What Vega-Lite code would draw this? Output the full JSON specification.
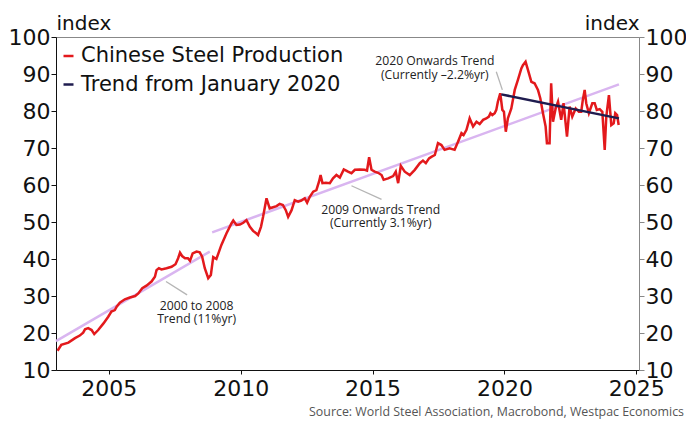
{
  "$schema": "https://vega.github.io/schema/vega-lite/v6.json",
  "autosize": {"type": "none"},
  "width": 583,
  "height": 333,
  "padding": {"left": 56, "top": 37, "right": 47, "bottom": 51},
  "background": "white",
  "config": {
    "font": "DejaVu Sans",
    "view": {"stroke": "#888888", "strokeWidth": 1},
    "axis": {"grid": false, "labelFont": "DejaVu Sans", "labelColor": "#111111", "labelFontSize": 21, "titleFont": "DejaVu Sans", "titleFontWeight": "normal", "titleFontSize": 20, "titleColor": "#111111"}
  },
  "title": {"text": "Source: World Steel Association, Macrobond, Westpac Economics", "orient": "bottom", "anchor": "end", "frame": "group", "dx": 45, "offset": 7, "fontSize": 12.4, "fontWeight": "normal", "color": "#555555", "font": "Open Sans"},
  "datasets": {
    "steel": [
      {"t": 2003.06, "v": 15.2}, {"t": 2003.2, "v": 16.8}, {"t": 2003.47, "v": 17.4}, {"t": 2003.72, "v": 18.6}, {"t": 2003.9, "v": 19.3},
      {"t": 2004.03, "v": 20.1}, {"t": 2004.1, "v": 21.0}, {"t": 2004.22, "v": 21.3}, {"t": 2004.35, "v": 20.8}, {"t": 2004.45, "v": 19.7},
      {"t": 2004.6, "v": 20.8}, {"t": 2004.8, "v": 22.6}, {"t": 2004.98, "v": 24.4}, {"t": 2005.1, "v": 25.8}, {"t": 2005.23, "v": 26.2},
      {"t": 2005.3, "v": 27.1}, {"t": 2005.42, "v": 28.2}, {"t": 2005.61, "v": 29.1}, {"t": 2005.8, "v": 29.6}, {"t": 2006.0, "v": 30.0},
      {"t": 2006.12, "v": 30.7}, {"t": 2006.27, "v": 32.1}, {"t": 2006.43, "v": 32.8}, {"t": 2006.62, "v": 33.9}, {"t": 2006.75, "v": 35.2},
      {"t": 2006.81, "v": 37.0}, {"t": 2006.9, "v": 37.5}, {"t": 2007.0, "v": 37.2}, {"t": 2007.19, "v": 37.5}, {"t": 2007.38, "v": 37.9},
      {"t": 2007.53, "v": 38.6}, {"t": 2007.63, "v": 40.2}, {"t": 2007.7, "v": 41.7}, {"t": 2007.78, "v": 40.8}, {"t": 2007.89, "v": 40.2},
      {"t": 2008.0, "v": 40.2}, {"t": 2008.08, "v": 39.5}, {"t": 2008.18, "v": 41.5}, {"t": 2008.33, "v": 42.0}, {"t": 2008.45, "v": 41.8},
      {"t": 2008.54, "v": 40.6}, {"t": 2008.64, "v": 37.5}, {"t": 2008.77, "v": 34.8}, {"t": 2008.87, "v": 35.7}, {"t": 2008.96, "v": 40.5},
      {"t": 2009.08, "v": 40.0}, {"t": 2009.27, "v": 43.8}, {"t": 2009.46, "v": 46.9}, {"t": 2009.65, "v": 49.6}, {"t": 2009.72, "v": 50.4},
      {"t": 2009.84, "v": 49.2}, {"t": 2009.97, "v": 49.3}, {"t": 2010.1, "v": 49.8}, {"t": 2010.22, "v": 50.5}, {"t": 2010.35, "v": 48.7},
      {"t": 2010.47, "v": 47.6}, {"t": 2010.6, "v": 46.9}, {"t": 2010.66, "v": 46.5}, {"t": 2010.77, "v": 48.7}, {"t": 2010.85, "v": 51.4},
      {"t": 2010.98, "v": 56.4}, {"t": 2011.1, "v": 53.7}, {"t": 2011.23, "v": 54.0}, {"t": 2011.36, "v": 54.3}, {"t": 2011.48, "v": 54.9},
      {"t": 2011.6, "v": 54.6}, {"t": 2011.71, "v": 53.2}, {"t": 2011.8, "v": 51.4}, {"t": 2011.93, "v": 53.2}, {"t": 2012.05, "v": 55.9},
      {"t": 2012.18, "v": 55.5}, {"t": 2012.3, "v": 55.8}, {"t": 2012.43, "v": 56.4}, {"t": 2012.52, "v": 55.2}, {"t": 2012.62, "v": 56.8},
      {"t": 2012.75, "v": 58.2}, {"t": 2012.87, "v": 58.6}, {"t": 2012.97, "v": 60.9}, {"t": 2013.03, "v": 62.7}, {"t": 2013.1, "v": 60.5},
      {"t": 2013.23, "v": 60.6}, {"t": 2013.38, "v": 60.5}, {"t": 2013.5, "v": 61.8}, {"t": 2013.63, "v": 62.7}, {"t": 2013.76, "v": 62.0},
      {"t": 2013.91, "v": 64.2}, {"t": 2014.0, "v": 63.9}, {"t": 2014.07, "v": 63.6}, {"t": 2014.2, "v": 63.2}, {"t": 2014.33, "v": 64.1},
      {"t": 2014.52, "v": 64.2}, {"t": 2014.7, "v": 64.1}, {"t": 2014.79, "v": 63.9}, {"t": 2014.87, "v": 67.5}, {"t": 2014.96, "v": 64.1},
      {"t": 2015.08, "v": 63.6}, {"t": 2015.21, "v": 63.3}, {"t": 2015.34, "v": 62.7}, {"t": 2015.42, "v": 61.4}, {"t": 2015.59, "v": 61.8},
      {"t": 2015.78, "v": 62.4}, {"t": 2015.88, "v": 63.6}, {"t": 2015.97, "v": 60.5}, {"t": 2016.07, "v": 65.2}, {"t": 2016.22, "v": 63.6},
      {"t": 2016.41, "v": 62.7}, {"t": 2016.6, "v": 64.1}, {"t": 2016.79, "v": 65.9}, {"t": 2016.91, "v": 66.6}, {"t": 2017.02, "v": 65.9},
      {"t": 2017.14, "v": 67.2}, {"t": 2017.23, "v": 67.6}, {"t": 2017.36, "v": 68.1}, {"t": 2017.48, "v": 71.3}, {"t": 2017.61, "v": 70.8},
      {"t": 2017.73, "v": 69.5}, {"t": 2017.92, "v": 69.9}, {"t": 2018.11, "v": 69.5}, {"t": 2018.24, "v": 71.7}, {"t": 2018.37, "v": 74.0},
      {"t": 2018.45, "v": 73.5}, {"t": 2018.56, "v": 74.9}, {"t": 2018.68, "v": 78.0}, {"t": 2018.81, "v": 75.8}, {"t": 2018.94, "v": 77.1},
      {"t": 2019.06, "v": 76.5}, {"t": 2019.19, "v": 77.6}, {"t": 2019.31, "v": 78.0}, {"t": 2019.41, "v": 78.5}, {"t": 2019.47, "v": 79.4},
      {"t": 2019.54, "v": 78.9}, {"t": 2019.63, "v": 79.4}, {"t": 2019.69, "v": 80.3}, {"t": 2019.75, "v": 82.5}, {"t": 2019.84, "v": 84.8},
      {"t": 2019.92, "v": 80.3}, {"t": 2019.98, "v": 79.8}, {"t": 2020.05, "v": 74.4}, {"t": 2020.13, "v": 78.0}, {"t": 2020.26, "v": 80.7},
      {"t": 2020.39, "v": 85.7}, {"t": 2020.51, "v": 88.4}, {"t": 2020.64, "v": 91.5}, {"t": 2020.7, "v": 92.4}, {"t": 2020.8, "v": 93.3},
      {"t": 2020.89, "v": 91.1}, {"t": 2021.02, "v": 87.9}, {"t": 2021.14, "v": 87.5}, {"t": 2021.27, "v": 85.7}, {"t": 2021.36, "v": 83.4},
      {"t": 2021.46, "v": 79.4}, {"t": 2021.56, "v": 75.8}, {"t": 2021.61, "v": 71.3}, {"t": 2021.71, "v": 71.3}, {"t": 2021.77, "v": 87.5},
      {"t": 2021.84, "v": 77.1}, {"t": 2021.94, "v": 80.7}, {"t": 2022.03, "v": 82.5}, {"t": 2022.15, "v": 77.6}, {"t": 2022.24, "v": 82.1},
      {"t": 2022.37, "v": 73.1}, {"t": 2022.47, "v": 81.2}, {"t": 2022.57, "v": 78.5}, {"t": 2022.7, "v": 80.7}, {"t": 2022.82, "v": 79.8},
      {"t": 2022.91, "v": 79.8}, {"t": 2022.97, "v": 83.0}, {"t": 2023.04, "v": 85.7}, {"t": 2023.1, "v": 82.1}, {"t": 2023.2, "v": 79.4},
      {"t": 2023.33, "v": 82.1}, {"t": 2023.42, "v": 82.1}, {"t": 2023.5, "v": 80.3}, {"t": 2023.61, "v": 80.5}, {"t": 2023.71, "v": 79.8},
      {"t": 2023.8, "v": 69.5}, {"t": 2023.86, "v": 78.5}, {"t": 2023.96, "v": 84.3}, {"t": 2024.05, "v": 76.2}, {"t": 2024.14, "v": 76.7},
      {"t": 2024.2, "v": 79.4}, {"t": 2024.27, "v": 78.9}, {"t": 2024.33, "v": 76.2}
    ],
    "longtrends": [
      {"seg": "2000 to 2008", "t": 2003.0, "v": 17.8}, {"seg": "2000 to 2008", "t": 2008.83, "v": 42.0},
      {"seg": "2009 onwards", "t": 2008.92, "v": 47.2}, {"seg": "2009 onwards", "t": 2024.34, "v": 87.2}
    ],
    "trend2020": [
      {"t": 2019.88, "v": 84.5}, {"t": 2024.34, "v": 78.0}
    ],
    "leaders": [
      {"t": 2019.69, "v": 90.6, "t2": 2019.92, "v2": 85.7},
      {"t": 2014.2, "v": 59.8, "t2": 2015.34, "v2": 56.1},
      {"t": 2007.17, "v": 33.9, "t2": 2007.97, "v2": 30.3}
    ],
    "notes": [
      {"t": 2017.36, "v": 93.4, "label": "2020 Onwards Trend\n(Currently –2.2%yr)"},
      {"t": 2015.31, "v": 53.3, "label": "2009 Onwards Trend\n(Currently 3.1%yr)"},
      {"t": 2008.33, "v": 27.4, "label": "2000 to 2008\nTrend (11%yr)"}
    ]
  },
  "resolve": {"axis": {"y": "independent"}},
  "layer": [
    {
      "data": {"name": "longtrends"},
      "mark": {"type": "line", "color": "#d9b5f0", "strokeWidth": 2.5},
      "encoding": {
        "x": {"field": "t", "type": "quantitative", "scale": {"domain": [2003.0, 2025.1], "nice": false, "zero": false},
              "axis": {"title": null, "values": [2005, 2010, 2015, 2020, 2025], "format": "d", "domainColor": "#111111", "tickColor": "#111111", "tickSize": 4, "labelPadding": 4, "labelFontSize": 22}},
        "y": {"field": "v", "type": "quantitative", "scale": {"domain": [10, 100], "nice": false, "zero": false},
              "axis": {"orient": "left", "title": "index", "titleAngle": 0, "titleAlign": "left", "titleBaseline": "alphabetic", "titleX": 0, "titleY": -8, "values": [10, 20, 30, 40, 50, 60, 70, 80, 90, 100], "domainColor": "#111111", "tickColor": "#111111", "tickSize": 5, "labelPadding": 1, "labelFontSize": 22}},
        "detail": {"field": "seg"}
      }
    },
    {
      "data": {"name": "steel"},
      "transform": [{"calculate": "'Chinese Steel Production'", "as": "series"}],
      "mark": {"type": "line", "strokeWidth": 2.5},
      "encoding": {
        "x": {"field": "t", "type": "quantitative"},
        "y": {"field": "v", "type": "quantitative",
              "axis": {"orient": "right", "title": "index", "titleAngle": 0, "titleAlign": "right", "titleBaseline": "alphabetic", "titleX": 0, "titleY": -8, "values": [10, 20, 30, 40, 50, 60, 70, 80, 90, 100], "domainColor": "#888888", "tickColor": "#888888", "tickSize": 5, "labelPadding": 1, "labelFontSize": 22}},
        "color": {"field": "series", "type": "nominal",
                  "scale": {"domain": ["Chinese Steel Production", "Trend from January 2020"], "range": ["#e3191c", "#1f1c4f"]},
                  "legend": {"orient": "none", "legendX": 2, "legendY": 8.5, "title": null, "symbolType": "stroke", "symbolSize": 100, "symbolStrokeWidth": 2.5, "labelFont": "DejaVu Sans", "labelFontSize": 21, "labelLimit": 0, "labelColor": "#111111", "labelOffset": 2, "rowPadding": 6.5, "padding": 0}}
      }
    },
    {
      "data": {"name": "trend2020"},
      "transform": [{"calculate": "'Trend from January 2020'", "as": "series"}],
      "mark": {"type": "line", "strokeWidth": 2.5},
      "encoding": {
        "x": {"field": "t", "type": "quantitative"},
        "y": {"field": "v", "type": "quantitative", "axis": null},
        "color": {"field": "series", "type": "nominal"}
      }
    },
    {
      "data": {"name": "leaders"},
      "mark": {"type": "rule", "color": "#b5b5b5", "strokeWidth": 1.3},
      "encoding": {
        "x": {"field": "t", "type": "quantitative"},
        "y": {"field": "v", "type": "quantitative", "axis": null},
        "x2": {"field": "t2"},
        "y2": {"field": "v2"}
      }
    },
    {
      "data": {"name": "notes"},
      "mark": {"type": "text", "fontSize": 12.2, "lineBreak": "\n", "lineHeight": 13.5, "color": "#222222", "align": "center", "baseline": "middle", "font": "Open Sans"},
      "encoding": {
        "x": {"field": "t", "type": "quantitative"},
        "y": {"field": "v", "type": "quantitative", "axis": null},
        "text": {"field": "label"}
      }
    }
  ]
}
